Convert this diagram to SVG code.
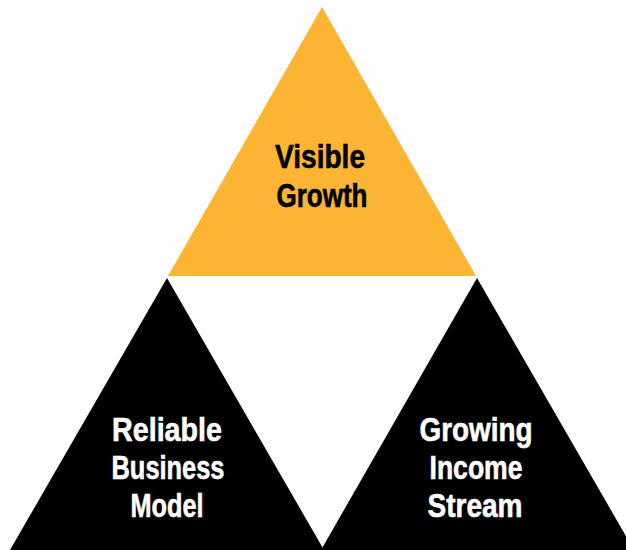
<svg xmlns="http://www.w3.org/2000/svg" width="626" height="550" viewBox="0 0 626 550">
<style>
.lbl{font-family:"Liberation Sans",Arial,sans-serif;font-weight:bold;font-size:33px;text-anchor:middle;stroke-width:0.6px}
.dark{fill:#000;stroke:#000}
.light{fill:#fff;stroke:#fff}
</style>
<rect width="626" height="550" fill="#fff"/>
<g id="visible-growth">
<polygon points="322,7 476,276 168,276" fill="#fbb532"/>
<text class="lbl dark" x="320" y="168" textLength="90" lengthAdjust="spacingAndGlyphs">Visible</text>
<text class="lbl dark" x="322" y="207" textLength="91" lengthAdjust="spacingAndGlyphs">Growth</text>
</g>
<g id="reliable-business-model">
<polygon points="167,278 324,550 10,550" fill="#000"/>
<text class="lbl light" x="167" y="441" textLength="110" lengthAdjust="spacingAndGlyphs">Reliable</text>
<text class="lbl light" x="168" y="479" textLength="113" lengthAdjust="spacingAndGlyphs">Business</text>
<text class="lbl light" x="167" y="517" textLength="73" lengthAdjust="spacingAndGlyphs">Model</text>
</g>
<g id="growing-income-stream">
<polygon points="477,278 634,550 321,550" fill="#000"/>
<text class="lbl light" x="476" y="441" textLength="113" lengthAdjust="spacingAndGlyphs">Growing</text>
<text class="lbl light" x="476" y="479" textLength="93" lengthAdjust="spacingAndGlyphs">Income</text>
<text class="lbl light" x="475" y="517" textLength="95" lengthAdjust="spacingAndGlyphs">Stream</text>
</g>
<g id="connectors"></g>
</svg>
